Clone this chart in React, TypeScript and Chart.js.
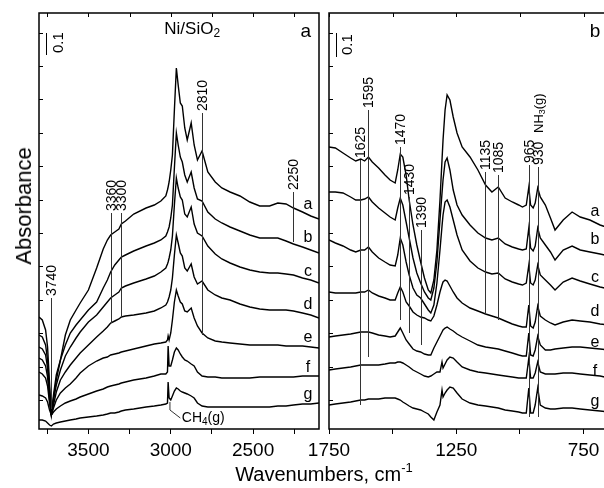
import React, { useEffect, useRef } from "react";
import { Chart, registerables } from "chart.js";
Chart.register(...registerables);

const FONT = '"Liberation Sans", Arial, Helvetica, sans-serif';
const NARROW = '"Liberation Sans Narrow", "Arial Narrow", "Liberation Sans", Arial, sans-serif';

// ---------- Left panel: Ni/SiO2, 3800-2100 cm-1 (absorbance in arbitrary offset units) ----------
const leftWavenumbers = [3800, 3780, 3760, 3748, 3736, 3725, 3712, 3695, 3670, 3640, 3610, 3575, 3550, 3500, 3450, 3410, 3385, 3365, 3340, 3315, 3300, 3275, 3225, 3150, 3100, 3060, 3030, 3020, 3016, 3010, 3000, 2990, 2978, 2966, 2955, 2942, 2930, 2915, 2900, 2876, 2858, 2838, 2810, 2775, 2730, 2690, 2640, 2580, 2520, 2460, 2400, 2350, 2300, 2255, 2200, 2150, 2100];
const leftA = [112, 109, 99, 82, 46, 14, 34, 54, 69, 94, 109, 119, 126, 139, 161, 180, 189, 194, 197, 200, 205, 208, 215, 221, 224, 228, 233, 239, 242, 247, 259, 274, 319, 361, 344, 326, 323, 301, 289, 306, 284, 269, 278, 257, 247, 241, 237, 233, 227, 223, 223, 226, 225, 221, 217, 213, 210];
const leftB = [94, 92, 84, 69, 39, 14, 31, 49, 69, 84, 96, 104, 109, 119, 127, 141, 149, 157, 164, 169, 172, 174, 178, 183, 186, 189, 193, 197, 199, 202, 211, 224, 261, 296, 284, 272, 267, 254, 247, 257, 241, 230, 228, 217, 210, 206, 202, 198, 194, 191, 191, 191, 188, 185, 182, 179, 176];
const leftC = [82, 80, 74, 61, 34, 14, 29, 44, 59, 73, 82, 91, 97, 107, 114, 122, 127, 131, 134, 137, 141, 143, 146, 150, 153, 157, 161, 165, 167, 171, 179, 193, 224, 251, 241, 232, 229, 215, 212, 222, 205, 196, 193, 183, 175, 170, 166, 162, 159, 157, 156, 156, 155, 154, 151, 149, 146];
const leftD = [71, 69, 63, 52, 29, 14, 24, 37, 49, 57, 64, 71, 76, 84, 92, 98, 102, 106, 108, 110, 112, 113, 114, 116, 118, 121, 124, 127, 129, 132, 139, 151, 174, 194, 186, 176, 173, 161, 158, 165, 152, 145, 148, 139, 134, 131, 129, 125, 122, 120, 119, 119, 119, 118, 116, 114, 111];
const leftE = [57, 55, 51, 43, 26, 14, 21, 29, 36, 41, 45, 51, 56, 63, 68, 71, 72, 74, 75, 76, 77, 78, 80, 83, 85, 86, 87, 89, 93, 89, 96, 109, 127, 139, 133, 127, 125, 118, 117, 121, 111, 103, 96, 91, 88, 87, 86, 85, 84, 84, 84, 84, 83, 83, 83, 82, 81];
const leftF = [34, 33, 31, 27, 19, 14, 17, 20, 23, 26, 28, 30, 32, 35, 38, 40, 42, 43, 44, 45, 46, 47, 49, 51, 53, 55, 55, 57, 83, 63, 63, 69, 77, 81, 79, 75, 72, 69, 68, 65, 63, 57, 53, 52, 52, 51, 51, 51, 51, 52, 52, 52, 52, 52, 53, 53, 53];
const leftG = [9, 9, 8, 6, 4, 3, 5, 6, 7, 8, 9, 10, 11, 12, 13, 14, 15, 16, 16, 17, 18, 19, 20, 22, 23, 24, 25, 26, 47, 31, 29, 33, 38, 41, 40, 38, 37, 36, 35, 33, 31, 26, 23, 22, 22, 22, 22, 22, 22, 22, 22, 23, 23, 24, 25, 25, 26];
const leftTicks = [3750, 3500, 3250, 3000, 2750, 2500, 2250];
const leftTickLabels = ["", "3500", "", "3000", "", "2500", ""];

// ---------- Right panel: 1750-650 cm-1 ----------
const rightWavenumbers = [1750, 1725, 1695, 1665, 1645, 1625, 1610, 1595, 1580, 1555, 1530, 1510, 1490, 1480, 1470, 1460, 1447, 1435, 1420, 1405, 1390, 1375, 1360, 1350, 1338, 1326, 1314, 1306, 1302, 1294, 1286, 1275, 1262, 1247, 1227, 1196, 1165, 1135, 1110, 1085, 1058, 1030, 1005, 990, 975, 965, 958, 948, 940, 930, 920, 900, 880, 862, 830, 795, 763, 725, 685, 650];
const rightA = [282, 281, 276, 271, 268, 270, 268, 272, 267, 261, 254, 249, 246, 259, 275, 272, 254, 229, 204, 184, 167, 151, 139, 136, 149, 179, 229, 269, 289, 319, 334, 329, 312, 296, 282, 272, 259, 244, 237, 242, 231, 227, 224, 222, 224, 242, 224, 221, 226, 241, 232, 224, 211, 199, 209, 217, 212, 209, 204, 201];
const rightB = [237, 237, 236, 232, 229, 229, 230, 232, 227, 221, 216, 212, 209, 221, 231, 224, 207, 191, 171, 156, 146, 137, 131, 129, 141, 167, 209, 236, 249, 267, 271, 259, 239, 224, 214, 204, 196, 191, 189, 191, 185, 182, 180, 179, 180, 201, 181, 178, 183, 201, 191, 184, 177, 169, 179, 183, 179, 177, 175, 173];
const rightC = [189, 186, 183, 179, 177, 179, 179, 182, 177, 171, 167, 164, 163, 174, 191, 184, 167, 154, 141, 134, 131, 125, 119, 116, 124, 146, 179, 203, 214, 227, 229, 222, 209, 194, 179, 168, 161, 157, 155, 156, 150, 147, 145, 144, 146, 164, 146, 144, 149, 164, 154, 149, 144, 139, 147, 151, 148, 145, 142, 140];
const rightD = [137, 136, 136, 136, 136, 137, 137, 139, 136, 133, 131, 129, 129, 136, 142, 137, 127, 123, 117, 114, 112, 111, 109, 108, 113, 124, 137, 144, 147, 149, 148, 143, 137, 131, 126, 121, 118, 115, 113, 111, 108, 105, 103, 102, 102, 124, 103, 101, 107, 123, 113, 109, 106, 104, 107, 109, 108, 107, 105, 104];
const rightE = [92, 93, 94, 95, 96, 97, 97, 97, 96, 94, 93, 92, 93, 97, 101, 96, 89, 85, 80, 78, 77, 75, 74, 74, 81, 87, 93, 97, 99, 101, 102, 100, 98, 95, 92, 88, 84, 82, 81, 80, 78, 76, 74, 73, 73, 96, 74, 73, 79, 93, 84, 79, 79, 80, 81, 82, 82, 81, 80, 79];
const rightF = [59, 60, 61, 62, 63, 64, 64, 64, 64, 64, 65, 66, 66, 67, 67, 66, 64, 62, 59, 57, 55, 53, 52, 53, 55, 57, 57, 67, 61, 65, 69, 72, 71, 67, 62, 59, 57, 56, 55, 54, 53, 52, 51, 51, 51, 71, 51, 51, 56, 67, 57, 55, 55, 55, 56, 56, 55, 54, 53, 51];
const rightG = [24, 25, 26, 27, 28, 29, 29, 30, 30, 30, 31, 31, 31, 30, 29, 27, 25, 23, 21, 20, 19, 17, 15, 12, 9, 17, 24, 39, 32, 36, 39, 42, 41, 36, 30, 26, 24, 23, 22, 21, 19, 18, 17, 16, 16, 41, 16, 16, 24, 41, 24, 21, 20, 20, 21, 21, 20, 19, 18, 17];
const rightTicks = [1750, 1500, 1250, 1000, 750];
const rightTickLabels = ["1750", "", "1250", "", "750"];

const curveNames = ["a", "b", "c", "d", "e", "f", "g"];
const leftLabelHeights = [224, 191, 157, 124, 91, 61, 34];
const rightLabelHeights = [217, 189, 151, 117, 86, 57, 27];

// band assignments: label, wavenumber, line top / bottom (absorbance units)
const leftMarkers = [
  { text: "3740", wn: 3727, top: 131, bottom: 20 },
  { text: "3360", wn: 3363, top: 216, bottom: 106 },
  { text: "3300", wn: 3300, top: 216, bottom: 112 },
  { text: "2810", wn: 2810, top: 316, bottom: 94 },
  { text: "2250", wn: 2255, top: 237, bottom: 187 },
];
const rightMarkers = [
  { text: "1625", wn: 1628, top: 269, bottom: 24 },
  { text: "1595", wn: 1595, top: 319, bottom: 72 },
  { text: "1470", wn: 1470, top: 282, bottom: 109 },
  { text: "1430", wn: 1434, top: 232, bottom: 96 },
  { text: "1390", wn: 1388, top: 199, bottom: 84 },
  { text: "1135", wn: 1137, top: 257, bottom: 114 },
  { text: "1085", wn: 1086, top: 254, bottom: 109 },
  { text: "965", wn: 965, top: 264, bottom: 12 },
  { text: "930", wn: 930, top: 262, bottom: 12 },
];

type Part = { t: string; sub?: boolean };

function drawParts(ctx: CanvasRenderingContext2D, parts: Part[], size: number) {
  let cx = 0;
  for (const p of parts) {
    const s = p.sub ? Math.round(size * 0.7) : size;
    ctx.font = `${s}px ${FONT}`;
    ctx.fillText(p.t, cx, p.sub ? size * 0.28 : 0);
    cx += ctx.measureText(p.t).width;
  }
}
function partsWidth(ctx: CanvasRenderingContext2D, parts: Part[], size: number) {
  let w = 0;
  for (const p of parts) {
    const s = p.sub ? Math.round(size * 0.7) : size;
    ctx.font = `${s}px ${FONT}`;
    w += ctx.measureText(p.t).width;
  }
  return w;
}
function rotText(ctx: CanvasRenderingContext2D, parts: Part[], x: number, y: number, size: number) {
  ctx.save();
  ctx.translate(x, y);
  ctx.rotate(-Math.PI / 2);
  ctx.textAlign = "left";
  ctx.textBaseline = "middle";
  drawParts(ctx, parts, size);
  ctx.restore();
}
function hText(ctx: CanvasRenderingContext2D, parts: Part[], x: number, y: number, size: number, align: "left" | "center") {
  ctx.save();
  ctx.textAlign = "left";
  ctx.textBaseline = "middle";
  const w = partsWidth(ctx, parts, size);
  ctx.translate(align === "center" ? x - w / 2 : x, y);
  drawParts(ctx, parts, size);
  ctx.restore();
}

type PanelSpec = {
  wn: number[];
  series: number[][];
  xMin: number;
  xMax: number;
  ticks: number[];
  tickLabels: string[];
  markers: { text: string; wn: number; top: number; bottom: number }[];
  labelWn: number;
  labelHeights: number[];
  letter: string;
  letterWn: number;
  barWn: number;
  barTop: number;
  barBottom: number;
  barTextWn: number;
  extra?: (ctx: CanvasRenderingContext2D, X: (v: number) => number, Y: (v: number) => number) => void;
  padLeft: number;
  padRight: number;
  width: number;
  left: number;
};

function line(ctx: CanvasRenderingContext2D, x1: number, y1: number, x2: number, y2: number) {
  ctx.beginPath();
  ctx.moveTo(x1, y1);
  ctx.lineTo(x2, y2);
  ctx.stroke();
}

function Panel({ spec }: { spec: PanelSpec }) {
  const ref = useRef<HTMLCanvasElement>(null);
  useEffect(() => {
    const decor = {
      id: "decor",
      afterDatasetsDraw(chart: any) {
        const ctx: CanvasRenderingContext2D = chart.ctx;
        const ca = chart.chartArea;
        const xs = chart.scales.x;
        const ys = chart.scales.y;
        const X = (v: number) => xs.getPixelForValue(v);
        const Y = (v: number) => ys.getPixelForValue(v);
        ctx.save();
        ctx.fillStyle = "#000";
        ctx.strokeStyle = "#000";
        ctx.lineWidth = 1.5;
        ctx.strokeRect(ca.left, ca.top, ca.right - ca.left, ca.bottom - ca.top);
        ctx.lineWidth = 1;
        spec.ticks.forEach((v) => {
          const x = Math.round(X(v)) + 0.5;
          line(ctx, x, ca.top, x, ca.top + 4);
        });
        for (let h = 29; h < 410; h += 33.4) {
          const y = Math.round(Y(h)) + 0.5;
          line(ctx, ca.left, y, ca.left + 4, y);
        }
        // band lines
        ctx.strokeStyle = "#333";
        ctx.lineWidth = 1;
        spec.markers.forEach((m) => {
          const x = Math.round(X(m.wn)) + 0.5;
          line(ctx, x, Y(m.top), x, Y(m.bottom));
          rotText(ctx, [{ t: m.text }], x + 0.5, Y(m.top) - 2, 14);
        });
        // scale bar
        ctx.strokeStyle = "#000";
        const bx = Math.round(X(spec.barWn)) + 0.5;
        line(ctx, bx, Y(spec.barTop), bx, Y(spec.barBottom));
        rotText(ctx, [{ t: "0.1" }], X(spec.barTextWn), Y(spec.barBottom) - 2, 15);
        // curve labels
        spec.labelHeights.forEach((h, i) => {
          hText(ctx, [{ t: curveNames[i] }], X(spec.labelWn), Y(h), 16, "center");
        });
        hText(ctx, [{ t: spec.letter }], X(spec.letterWn), Y(397), 19, "center");
        if (spec.extra) spec.extra(ctx, X, Y);
        ctx.restore();
      },
    };
    const chart = new Chart(ref.current!, {
      type: "line",
      data: {
        datasets: spec.series.map((ys, k) => ({
          label: curveNames[k],
          data: ys.map((y, i) => ({ x: spec.wn[i], y })),
          borderColor: "#000",
          borderWidth: 1.4,
          pointRadius: 0,
          tension: 0,
          fill: false,
        })),
      },
      options: {
        responsive: false,
        animation: false,
        devicePixelRatio: 1,
        events: [],
        layout: { padding: { left: spec.padLeft, right: spec.padRight, top: 13, bottom: 0 } },
        plugins: { legend: { display: false }, tooltip: { enabled: false } },
        scales: {
          x: {
            type: "linear",
            min: spec.xMin,
            max: spec.xMax,
            reverse: true,
            border: { display: false },
            grid: { display: true, drawOnChartArea: false, drawTicks: true, tickLength: 5, color: "#000", lineWidth: 1 },
            afterBuildTicks: (axis: any) => {
              axis.ticks = spec.ticks.map((v) => ({ value: v }));
            },
            ticks: {
              autoSkip: false,
              maxRotation: 0,
              padding: 5,
              color: "#000",
              font: { family: NARROW, size: 19 },
              callback: (v: any) => {
                const i = spec.ticks.indexOf(Number(v));
                return i >= 0 ? spec.tickLabels[i] : "";
              },
            },
            afterFit: (scale: any) => {
              scale.height = 59;
            },
          } as any,
          y: { type: "linear", min: 0, max: 416, display: false },
        },
      },
      plugins: [decor],
    } as any);
    return () => chart.destroy();
  }, []);
  return (
    <div style={{ position: "absolute", left: spec.left, top: 0 }}>
      <canvas ref={ref} width={spec.width} height={488} style={{ display: "block" }} />
    </div>
  );
}

const leftSpec: PanelSpec = {
  wn: leftWavenumbers,
  series: [leftA, leftB, leftC, leftD, leftE, leftF, leftG],
  xMin: 2100,
  xMax: 3800,
  ticks: leftTicks,
  tickLabels: leftTickLabels,
  markers: leftMarkers,
  labelWn: 2167,
  labelHeights: leftLabelHeights,
  letter: "a",
  letterWn: 2180,
  barWn: 3758,
  barTop: 396,
  barBottom: 374,
  barTextWn: 3680,
  padLeft: 39,
  padRight: 11,
  width: 330,
  left: 0,
  extra: (ctx, X, Y) => {
    hText(ctx, [{ t: "Ni/SiO" }, { t: "2", sub: true }], X(2870), Y(400), 17, "center");
    ctx.strokeStyle = "#333";
    ctx.beginPath();
    ctx.moveTo(X(3005), Y(27));
    ctx.lineTo(X(3005), Y(19));
    ctx.lineTo(X(2942), Y(11));
    ctx.stroke();
    hText(ctx, [{ t: "CH" }, { t: "4", sub: true }, { t: "(g)" }], X(2933), Y(11), 14, "left");
  },
};

const rightSpec: PanelSpec = {
  wn: rightWavenumbers,
  series: [rightA, rightB, rightC, rightD, rightE, rightF, rightG],
  xMin: 650,
  xMax: 1750,
  ticks: rightTicks,
  tickLabels: rightTickLabels,
  markers: rightMarkers,
  labelWn: 705,
  labelHeights: rightLabelHeights,
  letter: "b",
  letterWn: 705,
  barWn: 1722,
  barTop: 396,
  barBottom: 372,
  barTextWn: 1675,
  padLeft: 29,
  padRight: 21,
  width: 330,
  left: 300,
  extra: (ctx, X, Y) => {
    rotText(ctx, [{ t: "NH" }, { t: "3", sub: true }, { t: "(g)" }], X(925), Y(296), 13);
  },
};

export default function App() {
  return (
    <div style={{ position: "fixed", left: 0, top: 0, width: 604, height: 488, overflow: "hidden", background: "#fff" }}>
      <Panel spec={leftSpec} />
      <Panel spec={rightSpec} />
      <div
        style={{
          position: "absolute",
          left: 24,
          top: 206,
          transform: "translate(-50%, -50%) rotate(-90deg)",
          font: `22px ${FONT}`,
          lineHeight: "22px",
          whiteSpace: "nowrap",
          color: "#000",
        }}
      >
        Absorbance
      </div>
      <div
        style={{
          position: "absolute",
          left: 324,
          top: 464,
          transform: "translateX(-50%)",
          font: `20px ${FONT}`,
          lineHeight: "20px",
          whiteSpace: "nowrap",
          color: "#000",
        }}
      >
        Wavenumbers, cm<span style={{ fontSize: 13, position: "relative", top: -9 }}>-1</span>
      </div>
    </div>
  );
}
